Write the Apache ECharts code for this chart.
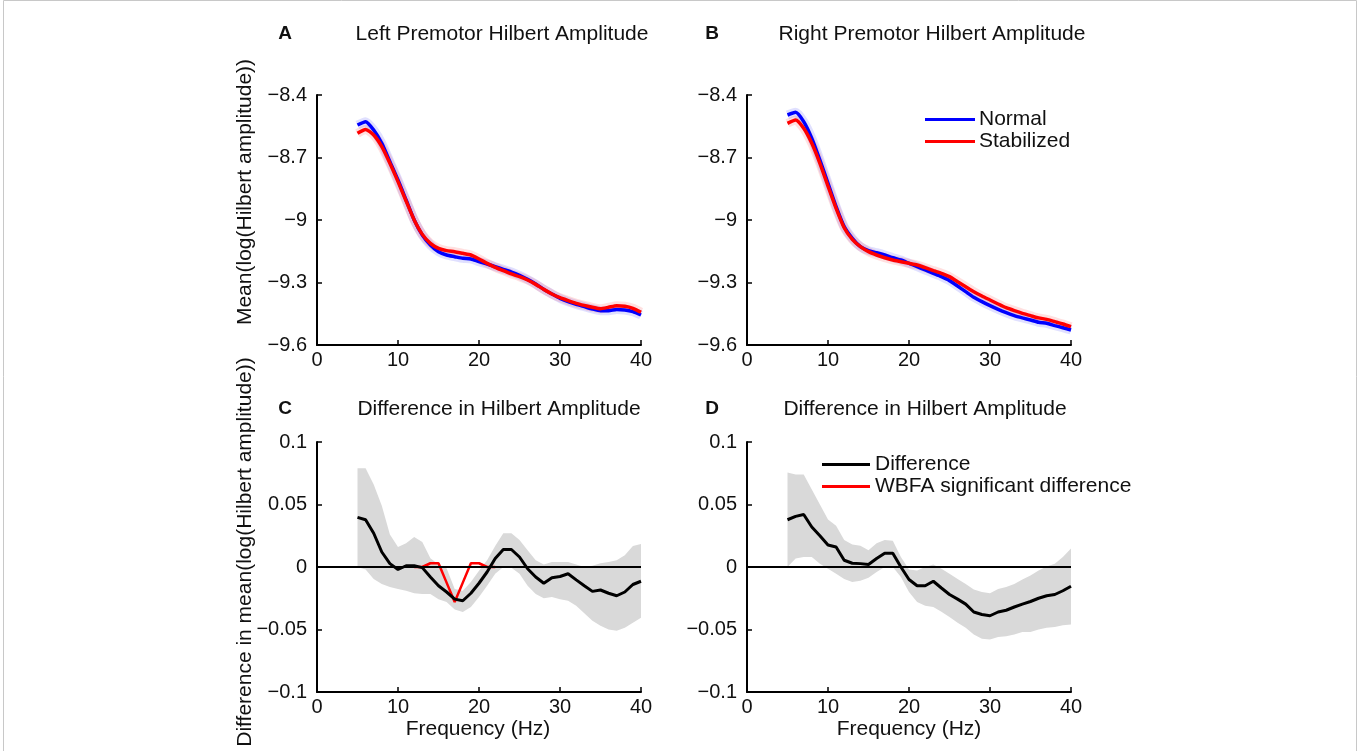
<!DOCTYPE html>
<html>
<head>
<meta charset="utf-8">
<script src="https://cdn.jsdelivr.net/npm/echarts@6/dist/echarts.min.js"></script>
<style>html,body{margin:0;padding:0;background:#fff;}#c{width:1360px;height:751px;}</style>
</head>
<body>
<div id="c"></div>
<script>
// ---- Data ----
const freq = [5,6,7,8,9,10,11,12,13,14,15,16,17,18,19,20,21,22,23,24,25,26,27,28,29,30,31,32,33,34,35,36,37,38,39,40];
const xTicks = [0,10,20,30,40];
const yTicksTop = [-9.6,-9.3,-9,-8.7,-8.4];
const yTicksBottom = [-0.1,-0.05,0,0.05,0.1];

const normalA = [-8.544,-8.528,-8.568,-8.632,-8.72,-8.808,-8.904,-9.0,-9.072,-9.12,-9.152,-9.168,-9.176,-9.184,-9.187,-9.2,-9.211,-9.224,-9.237,-9.25,-9.266,-9.285,-9.307,-9.333,-9.355,-9.376,-9.392,-9.405,-9.416,-9.427,-9.435,-9.435,-9.429,-9.432,-9.44,-9.456];
const stabA   = [-8.584,-8.565,-8.592,-8.648,-8.728,-8.816,-8.909,-9.0,-9.069,-9.112,-9.136,-9.147,-9.152,-9.16,-9.168,-9.187,-9.208,-9.227,-9.243,-9.259,-9.272,-9.288,-9.309,-9.333,-9.355,-9.373,-9.387,-9.4,-9.41,-9.419,-9.426,-9.419,-9.411,-9.414,-9.424,-9.443];
const normalB = [-8.496,-8.483,-8.528,-8.608,-8.712,-8.824,-8.936,-9.032,-9.088,-9.128,-9.147,-9.157,-9.168,-9.181,-9.192,-9.208,-9.224,-9.24,-9.256,-9.272,-9.291,-9.317,-9.344,-9.371,-9.392,-9.411,-9.429,-9.445,-9.459,-9.47,-9.48,-9.491,-9.496,-9.507,-9.517,-9.528];
const stabB   = [-8.536,-8.52,-8.56,-8.632,-8.728,-8.837,-8.944,-9.037,-9.093,-9.128,-9.152,-9.168,-9.181,-9.192,-9.2,-9.208,-9.216,-9.229,-9.243,-9.256,-9.272,-9.296,-9.32,-9.344,-9.365,-9.384,-9.403,-9.421,-9.435,-9.448,-9.459,-9.47,-9.477,-9.488,-9.499,-9.512];

const diffC  = [0.0397,0.0378,0.027,0.012,0.0027,-0.002,0.001,0.001,-0.0005,-0.008,-0.015,-0.020,-0.0257,-0.027,-0.021,-0.013,-0.004,0.0068,0.014,0.014,0.008,-0.0014,-0.008,-0.013,-0.0086,-0.0076,-0.0054,-0.0103,-0.015,-0.0195,-0.0184,-0.021,-0.023,-0.020,-0.014,-0.0114];
const upperC = [0.079,0.079,0.066,0.049,0.026,0.016,0.019,0.024,0.020,0.007,0.002,-0.001,-0.0176,-0.019,-0.012,-0.003,0.0054,0.0168,0.027,0.027,0.0216,0.0135,0.0054,0.002,0.004,0.004,0.004,0.002,0,0.001,0.003,0.004,0.0054,0.0095,0.0168,0.0184];
const lowerC = [0,-0.002,-0.0095,-0.0135,-0.016,-0.0176,-0.019,-0.021,-0.0216,-0.0216,-0.0257,-0.028,-0.034,-0.036,-0.032,-0.024,-0.015,-0.0054,0,-0.0005,-0.0054,-0.015,-0.0216,-0.025,-0.024,-0.0257,-0.027,-0.031,-0.037,-0.043,-0.047,-0.050,-0.051,-0.0486,-0.0446,-0.0405];
const wbfaC  = [null,null,null,null,null,null,null,0,0,0.003,0.003,-0.0125,-0.028,-0.0125,0.003,0.003,0,0,null,null,null,null,null,null,null,null,null,null,null,null,null,null,null,null,null,null];

const diffD  = [0.0378,0.0405,0.042,0.032,0.025,0.0176,0.016,0.0054,0.003,0.0027,0.002,0.0068,0.011,0.011,0,-0.010,-0.015,-0.015,-0.0114,-0.0168,-0.022,-0.0257,-0.0297,-0.036,-0.038,-0.039,-0.036,-0.0346,-0.032,-0.0297,-0.0276,-0.025,-0.023,-0.022,-0.019,-0.0154];
const upperD = [0.0757,0.074,0.074,0.062,0.05,0.038,0.033,0.0216,0.018,0.017,0.0135,0.019,0.0216,0.021,0.008,-0.002,-0.0027,0,0.002,-0.0014,-0.0054,-0.0095,-0.0135,-0.018,-0.020,-0.021,-0.0176,-0.016,-0.0135,-0.010,-0.0068,-0.0027,0.0005,0.0027,0.008,0.0149];
const lowerD = [0,0.0068,0.008,0.008,0.0027,-0.0014,-0.0054,-0.0095,-0.012,-0.011,-0.0086,-0.004,0,0,-0.008,-0.020,-0.028,-0.031,-0.032,-0.0357,-0.040,-0.0446,-0.0486,-0.054,-0.0573,-0.058,-0.056,-0.0554,-0.054,-0.052,-0.052,-0.050,-0.0486,-0.048,-0.0465,-0.046];

const titles = ['Left Premotor Hilbert Amplitude','Right Premotor Hilbert Amplitude','Difference in Hilbert Amplitude','Difference in Hilbert Amplitude'];
const letters = ['A','B','C','D'];
const xName = 'Frequency (Hz)';
const yNameTop = 'Mean(log(Hilbert amplitude))';
const yNameBottom = 'Difference in mean(log(Hilbert amplitude))';

// ---- Build chart ----
const FONT = '"Liberation Sans", Arial, Helvetica, sans-serif';
const pair = arr => freq.map((f,i) => [f, arr[i]]);
const fmt = v => String(Math.round(v*100)/100).replace('-', '\u2212');

const grids = [
  {left:317, top:95, width:324, height:250},
  {left:747, top:95, width:324, height:250},
  {left:317, top:442, width:324, height:250},
  {left:747, top:442, width:324, height:250}
];
const axisCommon = {
  axisLine:{show:true, onZero:false, lineStyle:{color:'#000', width:2}},
  axisTick:{show:true, inside:true, length:5, lineStyle:{color:'#000', width:1.5}},
  splitLine:{show:false},
  axisLabel:{color:'#111', fontSize:20, fontFamily:FONT, formatter:fmt}
};
const xAxes = grids.map((g,i) => Object.assign({}, axisCommon, {
  type:'value', gridIndex:i, min:xTicks[0], max:xTicks[xTicks.length-1], interval:10,
  axisLabel:Object.assign({}, axisCommon.axisLabel, {margin:5})
}));
const yAxes = grids.map((g,i) => Object.assign({}, axisCommon, {
  type:'value', gridIndex:i,
  min: i<2 ? yTicksTop[0] : yTicksBottom[0],
  max: i<2 ? yTicksTop[yTicksTop.length-1] : yTicksBottom[yTicksBottom.length-1],
  interval: i<2 ? 0.3 : 0.05,
  axisLabel:Object.assign({}, axisCommon.axisLabel, {margin:10})
}));

function errLine(name, data, idx, color){
  return {name, type:'line', xAxisIndex:idx, yAxisIndex:idx, data:pair(data), showSymbol:false, smooth:0.2,
    lineStyle:{color, width:9, opacity:0.15}, itemStyle:{color}, silent:true, z:1};
}
function mainLine(name, data, idx, color, width, z, smooth){
  return {name, type:'line', xAxisIndex:idx, yAxisIndex:idx, data:pair(data), showSymbol:false, smooth:smooth||0,
    lineStyle:{color, width}, itemStyle:{color}, z:z, connectNulls:false};
}
function band(up, lo, idx, name){
  return {name, type:'custom', xAxisIndex:idx, yAxisIndex:idx, silent:true, z:1,
    data: freq.map((f,i) => [f, lo[i], up[i]]),
    encode:{x:0, y:[1,2]},
    renderItem: function(params, api){
      if (params.dataIndex !== 0) return null;
      const pts = [];
      for (let i=0;i<freq.length;i++) pts.push(api.coord([freq[i], up[i]]));
      for (let i=freq.length-1;i>=0;i--) pts.push(api.coord([freq[i], lo[i]]));
      return {type:'polygon', shape:{points:pts}, style:{fill:'#d9d9d9', stroke:null}};
    }
  };
}
function zeroLine(idx){
  return {name:'zero'+idx, type:'line', xAxisIndex:idx, yAxisIndex:idx, data:[[xTicks[0],0],[xTicks[xTicks.length-1],0]],
    showSymbol:false, lineStyle:{color:'#000', width:2}, silent:true, z:4};
}

const series = [
  errLine('errNA', normalA, 0, '#3030ff'), errLine('errSA', stabA, 0, '#ff3030'),
  mainLine('Normal', normalA, 0, '#0000ff', 3.5, 3, 0.2), mainLine('Stabilized', stabA, 0, '#ff0000', 3.5, 3, 0.2),
  errLine('errNB', normalB, 1, '#3030ff'), errLine('errSB', stabB, 1, '#ff3030'),
  mainLine('Normal', normalB, 1, '#0000ff', 3.5, 3, 0.2), mainLine('Stabilized', stabB, 1, '#ff0000', 3.5, 3, 0.2),
  band(upperC, lowerC, 2, 'bandC'),
  mainLine('WBFA significant difference', wbfaC, 2, '#ff0000', 2.5, 2),
  mainLine('Difference', diffC, 2, '#000000', 3, 3),
  zeroLine(2),
  band(upperD, lowerD, 3, 'bandD'),
  mainLine('Difference', diffD, 3, '#000000', 3, 3),
  zeroLine(3)
];

const textStyle = {fill:'#111', fontSize:21, fontFamily:FONT};
const T = (x, y, text, extra) => ({type:'text', x, y, silent:true,
  style:Object.assign({}, textStyle, {text, align:'center', verticalAlign:'middle'}, extra||{})});
const graphic = [
  {type:'rect', shape:{x:3.5, y:0.5, width:1353, height:770}, style:{fill:null, stroke:'#c8c8c8', lineWidth:1}, silent:true},
  T(285, 34, letters[0], {fontWeight:'bold', fontSize:19}),
  T(712, 34, letters[1], {fontWeight:'bold', fontSize:19}),
  T(285, 409, letters[2], {fontWeight:'bold', fontSize:19}),
  T(712, 409, letters[3], {fontWeight:'bold', fontSize:19}),
  T(502, 34, titles[0]),
  T(932, 34, titles[1]),
  T(499, 409, titles[2]),
  T(925, 409, titles[3]),
  T(478, 729, xName),
  T(909, 729, xName),
  Object.assign(T(245, 192, yNameTop), {rotation:Math.PI/2}),
  Object.assign(T(245, 552, yNameBottom), {rotation:Math.PI/2})
];

const chart = echarts.init(document.getElementById('c'), null, {renderer:'canvas'});
chart.setOption({
  backgroundColor:'#fff',
  animation:false,
  grid:grids,
  xAxis:xAxes,
  yAxis:yAxes,
  legend:[
    {data:['Normal','Stabilized'], orient:'vertical', left:925, top:109, padding:0, icon:'rect', itemWidth:50, itemHeight:3, itemGap:1,
      textStyle:{fontSize:21, fontFamily:FONT, color:'#111', padding:[0,0,0,-1]}},
    {data:['Difference','WBFA significant difference'], orient:'vertical', left:822, top:454, padding:0, icon:'rect', itemWidth:48, itemHeight:3, itemGap:1,
      textStyle:{fontSize:21, fontFamily:FONT, color:'#111'}}
  ],
  series,
  graphic
});
</script>
</body>
</html>
